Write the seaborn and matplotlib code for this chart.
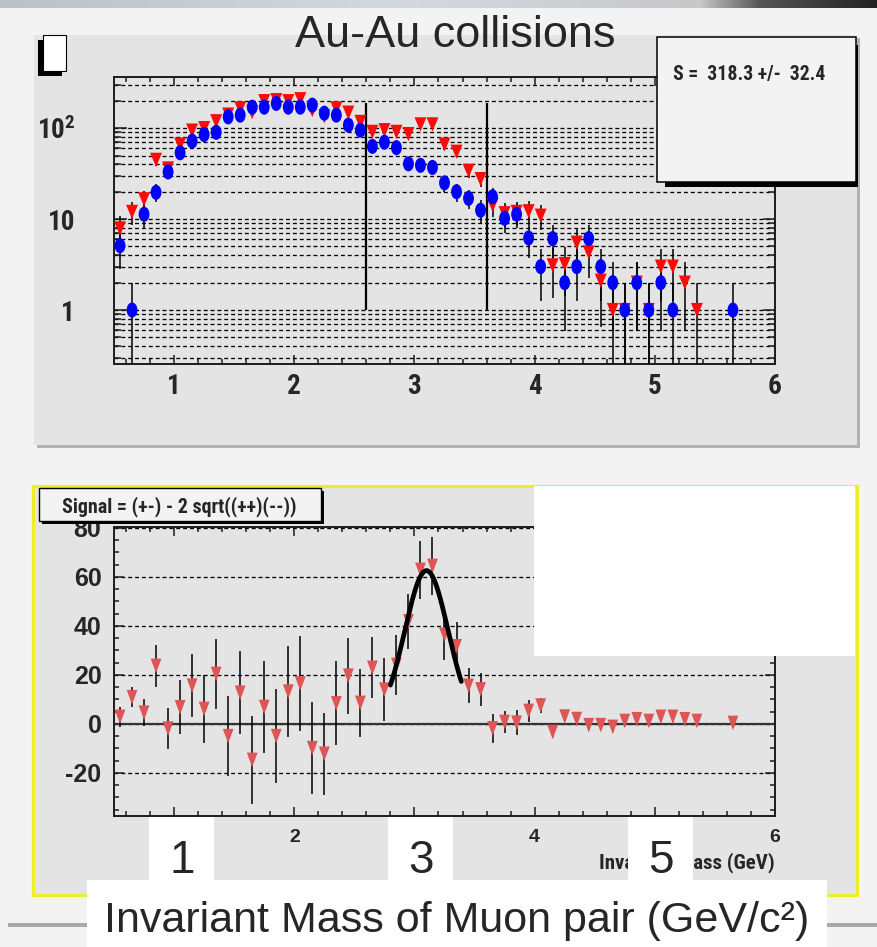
import numpy as np
import matplotlib
matplotlib.use("Agg")
import matplotlib.pyplot as plt
import seaborn as sns
from matplotlib.path import Path
from matplotlib.markers import MarkerStyle
from matplotlib.patches import Rectangle
from matplotlib.colors import to_rgb
from matplotlib.ticker import (FixedLocator, FixedFormatter, MultipleLocator,
                               LogLocator, NullFormatter)
from matplotlib import font_manager

# ---------------------------------------------------------------- data
# opposite-sign (+-) pair counts per 0.1 GeV mass bin
UNLIKE_MASS = [0.55, 0.65, 0.75, 0.85, 0.95, 1.05, 1.15, 1.25, 1.35, 1.45,
               1.55, 1.65, 1.75, 1.85, 1.95, 2.05, 2.15, 2.25, 2.35, 2.45,
               2.55, 2.65, 2.75, 2.85, 2.95, 3.05, 3.15, 3.25, 3.35, 3.45,
               3.55, 3.65, 3.75, 3.85, 3.95, 4.05, 4.15, 4.25, 4.35, 4.45,
               4.55, 4.65, 4.75, 4.85, 4.95, 5.05, 5.15, 5.25, 5.35]
UNLIKE_COUNTS = [7.9, 12, 16.5, 44.8, 36, 66, 94, 100, 119, 141,
                 165, 150, 198, 203, 198, 208, 158, 135, 165, 148,
                 117, 91, 95, 91, 86, 110, 110, 66, 55, 34,
                 27.5, 14.3, 11.6, 12, 12.2, 10.9, 3.1, 3.2, 5.5, 4.3,
                 2.1, 1.0, 1.0, 2.0, 1.0, 3.0, 3.0, 2.0, 1.0]

# like-sign background 2*sqrt((++)(--)) per bin
LIKE_MASS = [0.55, 0.65, 0.75, 0.85, 0.95, 1.05, 1.15, 1.25, 1.35, 1.45,
             1.55, 1.65, 1.75, 1.85, 1.95, 2.05, 2.15, 2.25, 2.35, 2.45,
             2.55, 2.65, 2.75, 2.85, 2.95, 3.05, 3.15, 3.25, 3.35, 3.45,
             3.55, 3.65, 3.75, 3.85, 3.95, 4.05, 4.15, 4.25, 4.35, 4.45,
             4.55, 4.65, 4.75, 4.85, 4.95, 5.05, 5.15, 5.65]
LIKE_COUNTS = [5.1, 1.0, 11.3, 19.7, 33, 53.6, 72, 85, 90, 133,
               139, 170, 170, 187, 170, 170, 179, 146, 139, 108,
               95, 63, 70, 61, 40.5, 39, 37, 25, 20, 16.9,
               12.5, 17.6, 10.2, 11.3, 6.2, 3.0, 6.1, 2.0, 3.0, 6.1,
               3.0, 2.0, 1.0, 2.0, 1.0, 2.0, 1.0, 1.0]

# background-subtracted signal and its uncertainty
SIGNAL_MASS = [0.55, 0.65, 0.75, 0.85, 0.95, 1.05, 1.15, 1.25, 1.35, 1.45,
               1.55, 1.65, 1.75, 1.85, 1.95, 2.05, 2.15, 2.25, 2.35, 2.45,
               2.55, 2.65, 2.75, 2.85, 2.95, 3.05, 3.15, 3.25, 3.35, 3.45,
               3.55, 3.65, 3.75, 3.85, 3.95, 4.05, 4.15, 4.25, 4.35, 4.45,
               4.55, 4.65, 4.75, 4.85, 4.95, 5.05, 5.15, 5.25, 5.35, 5.65]
SIGNAL_VALUES = [2.9, 10.9, 4.6, 23.7, -1.9, 6.8, 15.6, 6.1, 20.4, -5.0,
                 12.7, -14.7, 6.9, -5.0, 13.2, 16.5, -9.9, -12.2, 8.4, 19.7,
                 8.6, 22.9, 14.0, 24.1, 41.9, 62.9, 64.5, 36.4, 31.7, 15.6,
                 14.1, -1.8, 0.8, 0.5, 5.3, 7.5, -3.3, 3.0, 2.0, -0.5,
                 -0.5, -1.2, 1.2, 1.9, 1.2, 2.9, 2.9, 1.9, 1.2, 0.4]
SIGNAL_ERRORS = [4.0, 4.0, 5.4, 8.5, 8.3, 11.0, 12.8, 13.8, 14.4, 16.3,
                 17.0, 17.9, 18.8, 19.2, 18.7, 19.2, 18.8, 16.8, 17.1, 15.5,
                 14.0, 12.5, 13.0, 12.2, 11.2, 11.9, 11.8, 10.3, 10.0, 7.1,
                 6.7, 5.9, 4.6, 5.0, 4.4, 3.2, 2.0, 2.0, 2.0, 2.0,
                 2.0, 2.0, 2.0, 2.0, 2.0, 2.0, 2.0, 2.0, 2.0, 2.0]

# Gaussian fit to the J/psi peak
FIT_AMPLITUDE = 62.6
FIT_MEAN = 3.10
FIT_SIGMA = 0.181
FIT_RANGE = (2.80, 3.39)

# signal window markers and fitted yield
WINDOW_EDGES = [2.6, 3.6]
WINDOW_SPAN = (1.0, 190.0)
SIGNAL_YIELD = 318.3
SIGNAL_YIELD_ERR = 32.4

MASS_TICKS = [1, 2, 3, 4, 5, 6]
LOG_TICKS = [1, 10, 100]
LOG_TICK_LABELS = ["1", "10", r"$\mathbf{10^{2}}$"]
SLIDE_DIGITS = ["1", "3", "5"]
SLIDE_DIGIT_X = [182, 421, 661]

# ---------------------------------------------------------------- fonts
sns.set_style("ticks")
REGULAR = "Liberation Sans"


def pick_condensed():
    fonts = font_manager.fontManager.ttflist
    names = {f.name for f in fonts}
    for name in ("Liberation Sans Narrow", "Roboto Condensed", "Open Sans Condensed",
                 "DejaVu Sans Condensed"):
        if name in names:
            return name, "normal", 1.0
    for fam in ("Roboto", "Open Sans", "DejaVu Sans"):
        for f in fonts:
            if f.name == fam and f.stretch in ("condensed", "semi-condensed", 300, 400):
                return fam, "condensed", 1.0
    return REGULAR, "normal", 0.82


NARROW, NARROW_STRETCH, NARROW_SCALE = pick_condensed()
plt.rcParams["font.family"] = [NARROW, "DejaVu Sans"]
plt.rcParams["font.stretch"] = NARROW_STRETCH
plt.rcParams["font.weight"] = "bold"
plt.rcParams["mathtext.fontset"] = "custom"
plt.rcParams["mathtext.rm"] = NARROW
plt.rcParams["mathtext.bf"] = f"{NARROW}:bold"
plt.rcParams["axes.unicode_minus"] = False

W, H, DPI = 877, 947, 100
PAD_GRAY = "#e4e4e4"
FRAME = "#1c1c1c"
DASH = (0, (3, 2.2))


def px_box(left, top, right, bottom):
    return [left / W, 1 - bottom / H, (right - left) / W, (bottom - top) / H]


def ellipse_marker(xscale):
    circ = Path.unit_circle()
    return MarkerStyle(Path(circ.vertices * [xscale, 1.0], circ.codes))


def down_triangle(half_width):
    return MarkerStyle(Path([(-half_width, 0.5), (half_width, 0.5), (0, -0.5), (-half_width, 0.5)],
                            [Path.MOVETO, Path.LINETO, Path.LINETO, Path.CLOSEPOLY]))


fig = plt.figure(figsize=(W / DPI, H / DPI), dpi=DPI, facecolor="#f3f3f3")

# ---------------------------------------------------------------- slide background
bg = fig.add_axes([0, 0, 1, 1], zorder=0)
stops_x = [0, 400, 700, 760, 877]
stops_c = [to_rgb(c) for c in ["#b9c1c9", "#d5d9dd", "#c6c8ca", "#555555", "#222222"]]
xs = np.arange(W)
strip = np.stack([np.interp(xs, stops_x, [c[i] for c in stops_c]) for i in range(3)], axis=-1)
bg.imshow(strip[None, :, :], extent=(0, W, 8, 0), aspect="auto")
bg.add_patch(Rectangle((37, 38), 823, 410, fc="#b2b2b2", ec="none"))
bg.add_patch(Rectangle((34, 35), 823, 410, fc=PAD_GRAY, ec="none"))
bg.add_patch(Rectangle((38, 40), 24, 36, fc="black", ec="none"))
bg.add_patch(Rectangle((43, 35), 23, 36, fc="white", ec="black", lw=0.8))
bg.add_patch(Rectangle((33, 486), 824, 409, fc=PAD_GRAY, ec="#f0ec2c", lw=2.2))
bg.add_patch(Rectangle((8, 923), 869, 4, fc="#a8a8a8", ec="none"))
bg.set_xlim(0, W)
bg.set_ylim(H, 0)
bg.axis("off")

# ---------------------------------------------------------------- top: pair spectra (log)
ax1 = fig.add_axes(px_box(114, 77, 775, 364), zorder=2)
ax1.set_facecolor(PAD_GRAY)

unlike = np.array(UNLIKE_COUNTS)
like = np.array(LIKE_COUNTS)
for mass, counts in ((UNLIKE_MASS, unlike), (LIKE_MASS, like)):
    err = np.sqrt(counts)
    ax1.errorbar(mass, counts, yerr=[np.minimum(err, counts * 0.999), err],
                 fmt="none", ecolor="black", elinewidth=1.1, capsize=0, zorder=3)
ax1.vlines(WINDOW_EDGES, *WINDOW_SPAN, color="black", lw=1.6, zorder=3)
sns.scatterplot(x=UNLIKE_MASS, y=UNLIKE_COUNTS, marker=down_triangle(0.42), s=105,
                color="#ff0a0a", edgecolor="none", ax=ax1, zorder=4, legend=False)
sns.scatterplot(x=LIKE_MASS, y=LIKE_COUNTS, marker=ellipse_marker(0.72), s=118,
                color="#0000ff", edgecolor="none", ax=ax1, zorder=5, legend=False)

ax1.set_xlim(0.5, 6.0)
ax1.set_yscale("log")
ax1.set_ylim(0.255, 365)
ax1.xaxis.set_major_locator(FixedLocator(MASS_TICKS))
ax1.xaxis.set_minor_locator(MultipleLocator(0.2))
ax1.yaxis.set_major_locator(FixedLocator(LOG_TICKS))
ax1.yaxis.set_major_formatter(FixedFormatter(LOG_TICK_LABELS))
ax1.yaxis.set_minor_locator(LogLocator(base=10, subs=np.arange(2, 10), numticks=20))
ax1.yaxis.set_minor_formatter(NullFormatter())
ax1.grid(True, axis="y", which="both", color="black", ls=DASH, lw=0.95)
ax1.set_axisbelow(True)
ax1.tick_params(which="both", direction="in", top=True, right=True, color=FRAME, width=1.1)
ax1.tick_params(axis="x", which="major", length=6.5, labelsize=19.5 * NARROW_SCALE ** 0.5, pad=6.5)
ax1.tick_params(axis="x", which="minor", length=3.6)
ax1.tick_params(axis="y", which="major", length=9, labelsize=19.5 * NARROW_SCALE ** 0.5, pad=28)
ax1.tick_params(axis="y", which="minor", length=5)
ax1.set_xlabel("")
ax1.set_ylabel("")
for sp in ax1.spines.values():
    sp.set_visible(True)
    sp.set_color(FRAME)
    sp.set_linewidth(1.4)

# ---------------------------------------------------------------- bottom: subtracted signal
ax2 = fig.add_axes(px_box(114, 527, 775, 816), zorder=2)
ax2.set_facecolor(PAD_GRAY)
ax2.errorbar(SIGNAL_MASS, SIGNAL_VALUES, yerr=SIGNAL_ERRORS, fmt="none",
             ecolor="black", elinewidth=1.1, capsize=0, zorder=3)
ax2.axhline(0, color="#333333", lw=1.6, zorder=2)
sns.scatterplot(x=SIGNAL_MASS, y=SIGNAL_VALUES, marker=down_triangle(0.37), s=110,
                color="#dd5555", edgecolor="none", ax=ax2, zorder=4, legend=False)
fit_x = np.linspace(FIT_RANGE[0], FIT_RANGE[1], 200)
fit_y = FIT_AMPLITUDE * np.exp(-0.5 * ((fit_x - FIT_MEAN) / FIT_SIGMA) ** 2)
sns.lineplot(x=fit_x, y=fit_y, color="black", lw=3.4, ax=ax2, zorder=6)

ax2.set_xlim(0.5, 6.0)
ax2.set_ylim(-37.6, 80.4)
ax2.xaxis.set_major_locator(FixedLocator(MASS_TICKS))
ax2.xaxis.set_minor_locator(MultipleLocator(0.2))
ax2.yaxis.set_major_locator(MultipleLocator(20))
ax2.yaxis.set_minor_locator(MultipleLocator(5))
ax2.grid(True, axis="y", which="major", color="black", ls=DASH, lw=0.95)
ax2.set_axisbelow(True)
ax2.tick_params(which="both", direction="in", top=True, right=True, color=FRAME, width=1.1)
ax2.tick_params(axis="x", which="major", length=6.5, labelsize=14, pad=9.5,
                labelfontfamily=REGULAR)
ax2.tick_params(axis="x", which="minor", length=3.6)
ax2.tick_params(axis="y", which="major", length=7.5, labelsize=18, pad=9,
                labelfontfamily=REGULAR)
ax2.tick_params(axis="y", which="minor", length=3.8)
ax2.set_ylabel("")
ax2.set_xlabel("Invariant Mass (GeV)", loc="right", fontsize=15 * NARROW_SCALE,
               fontweight="bold")
ax2.xaxis.set_label_coords(1.0, -0.125)
for sp in ax2.spines.values():
    sp.set_visible(True)
    sp.set_color(FRAME)
    sp.set_linewidth(1.4)

# ---------------------------------------------------------------- boxes and slide text
ov = fig.add_axes([0, 0, 1, 1], zorder=5)
ov.set_xlim(0, W)
ov.set_ylim(H, 0)
ov.axis("off")

ov.text(455, 47, "Au-Au collisions", ha="center", va="baseline", fontsize=32.5,
        family=[REGULAR, "DejaVu Sans"], weight="normal", stretch="normal")

# fit result box
ov.add_patch(Rectangle((665, 45), 193, 142, fc="black", ec="none"))
ov.add_patch(Rectangle((657, 37), 199, 145, fc="#f3f3f3", ec="black", lw=1.1))
ov.text(673, 80, f"S =  {SIGNAL_YIELD:.1f} +/-  {SIGNAL_YIELD_ERR:.1f}", ha="left",
        va="baseline", fontsize=14.2 * NARROW_SCALE, weight="bold")

# histogram title box
ov.add_patch(Rectangle((42, 491), 282, 33, fc="black", ec="none"))
ov.add_patch(Rectangle((39, 488), 282, 33, fc="#f3f3f3", ec="black", lw=1.0))
ov.text(179, 512, "Signal = (+-) - 2 sqrt((++)(--))", ha="center", va="baseline",
        fontsize=14.4 * NARROW_SCALE, weight="bold")

ov.add_patch(Rectangle((534, 486), 321, 170, fc="white", ec="none"))

for x, digit in zip(SLIDE_DIGIT_X, SLIDE_DIGITS):
    ov.add_patch(Rectangle((x - 33, 817), 65, 64, fc="white", ec="none"))
    ov.text(x, 873, digit, ha="center", va="baseline", fontsize=33,
            family=[REGULAR, "DejaVu Sans"], weight="normal", stretch="normal")
ov.add_patch(Rectangle((87, 880), 740, 67, fc="white", ec="none"))
ov.text(457, 932, "Invariant Mass of Muon pair (GeV/c²)", ha="center", va="baseline",
        fontsize=31, family=[REGULAR, "DejaVu Sans"], weight="normal", stretch="normal")

fig.savefig("out.png", dpi=DPI, facecolor=fig.get_facecolor())
